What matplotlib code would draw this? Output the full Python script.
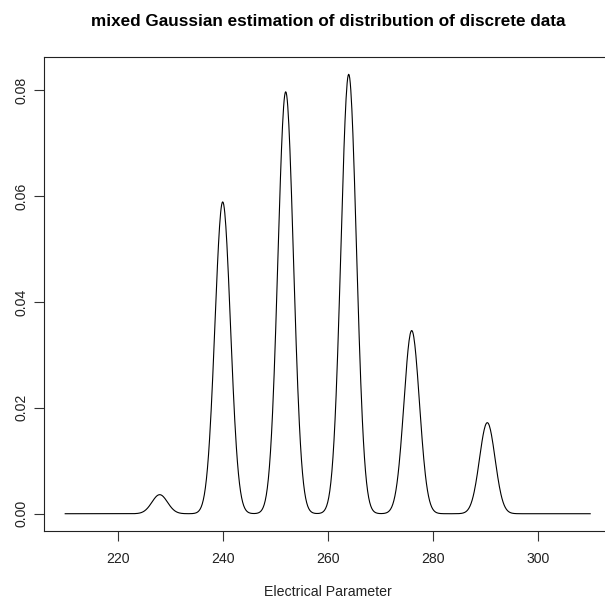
import numpy as np
import matplotlib
matplotlib.use("Agg")
import matplotlib.pyplot as plt

# Mixture components
peak_means = [228.0, 240.0, 252.0, 264.0, 276.0, 290.4]
peak_heights = [0.0036, 0.0589, 0.0797, 0.0830, 0.0346, 0.0172]
peak_sds = [1.48, 1.48, 1.48, 1.48, 1.48, 1.48]

x_range = (210, 310)
x_ticks = [220, 240, 260, 280, 300]
y_ticks = [0.00, 0.02, 0.04, 0.06, 0.08]
y_ticklabels = ["0.00", "0.02", "0.04", "0.06", "0.08"]

title = "mixed Gaussian estimation of distribution of discrete data"
xlabel = "Electrical Parameter"

x = np.linspace(x_range[0], x_range[1], 1001)
y = np.zeros_like(x)
for m, h, s in zip(peak_means, peak_heights, peak_sds):
    y += h * np.exp(-0.5 * ((x - m) / s) ** 2)

plt.rcParams['font.family'] = ['Liberation Sans', 'DejaVu Sans']

W, H = 605, 602
fig = plt.figure(figsize=(W / 100, H / 100), dpi=100)
left, right, bottom, top = 44.2, 611.2, 531.3, 56.7
ax = fig.add_axes([left / W, 1 - bottom / H, (right - left) / W, (bottom - top) / H])

ax.plot(x, y, color='black', linewidth=0.8)

xr = x_range[1] - x_range[0]
ax.set_xlim(x_range[0] - 0.04 * xr, x_range[1] + 0.04 * xr)
ymax = y.max()
ax.set_ylim(-0.04 * ymax, ymax * 1.04)

fs = 10.2
ax.set_xticks(x_ticks)
ax.set_xticklabels([str(t) for t in x_ticks], fontsize=fs, color='#222222')
ax.set_yticks(y_ticks)
ax.set_yticklabels(y_ticklabels, fontsize=fs, rotation=90, va='center', color='#222222')

ax.tick_params(axis='both', direction='out', length=7, width=0.8, color='#333333')
ax.tick_params(axis='x', pad=8)
ax.tick_params(axis='y', pad=4.5)
for sp in ax.spines.values():
    sp.set_linewidth(0.8)
    sp.set_color('#222222')

fig.text(328 / W, 1 - 22 / H, title, ha='center', va='center', fontsize=12.3, fontweight='bold')
fig.text(328 / W, 1 - 592 / H, xlabel, ha='center', va='center', fontsize=fs, color='#222222')

fig.savefig("out.png", dpi=100)
